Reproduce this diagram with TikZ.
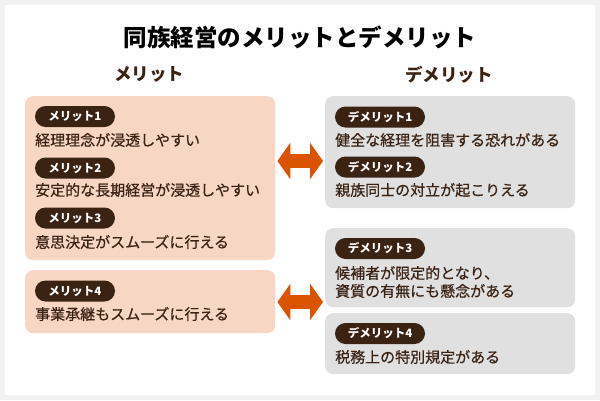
\documentclass[tikz,border=0pt]{standalone}
\usepackage{fontspec}
\setmainfont{Noto Sans CJK JP}
\newfontfamily\jpmed[FakeBold=0.6]{Noto Sans CJK JP}
\usetikzlibrary{arrows.meta}
\definecolor{bgc}{RGB}{242,242,242}
\definecolor{peach}{RGB}{248,214,196}
\definecolor{greyc}{RGB}{224,224,224}
\definecolor{pillc}{RGB}{59,35,20}
\definecolor{txt}{RGB}{59,35,20}
\definecolor{orangec}{RGB}{218,84,0}
\begin{document}
\begin{tikzpicture}[x=1pt,y=-1pt,
  titlestyle/.style={inner sep=0pt, text=black, font=\bfseries\fontsize{23.5}{26}\selectfont},
  headstyle/.style={inner sep=0pt, text=txt, font=\bfseries\fontsize{17.5}{20}\selectfont},
  boxstyle/.style={rounded corners=8pt, inner sep=0pt, anchor=north west, minimum width=250pt},
  meritbox/.style={boxstyle, fill=peach},
  demeritbox/.style={boxstyle, fill=greyc},
  pill/.style={fill=pillc, rounded corners=10.5pt, minimum height=21pt, inner sep=0pt, text=white, font=\bfseries\fontsize{11.5}{12}\selectfont},
  lpill/.style={pill, minimum width=80pt},
  rpill/.style={pill, minimum width=90pt},
  body/.style={anchor=west, inner sep=0pt, text=txt, align=left, font=\jpmed\fontsize{15}{18}\selectfont},
  arr/.style={draw=orangec, line width=14pt, {Triangle[length=13pt,width=36pt]}-{Triangle[length=13pt,width=36pt]}, shorten >=2pt, shorten <=2pt}
]
\fill[bgc] (0,0) rectangle (600,400);
\fill[white] (5,5) rectangle (595,395);

\node[titlestyle] (title) at (300,37) {同族経営のメリットとデメリット};
\node[headstyle] (hm) at (149,74) {メリット};
\node[headstyle] (hd) at (449,75) {デメリット};

% boxes
\node[meritbox, minimum height=164pt] (lb1) at (25,96) {};
\node[meritbox, minimum height=63pt] (lb2) at (25,270) {};
\node[demeritbox, minimum height=112pt] (rb1) at (325,96) {};
\node[demeritbox, minimum height=79pt] (rb2) at (325,228) {};
\node[demeritbox, minimum height=61pt] (rb3) at (325,313) {};

% merit pills and texts
\node[lpill] (p1) at (75,116.5) {メリット1};
\node[body] (t1) at (35,140) {経理理念が浸透しやすい};
\node[lpill] (p2) at (75,168) {メリット2};
\node[body] (t2) at (35,190) {安定的な長期経営が浸透しやすい};
\node[lpill] (p3) at (75,218) {メリット3};
\node[body] (t3) at (35,242) {意思決定がスムーズに行える};
\node[lpill] (p4) at (75,291) {メリット4};
\node[body] (t4) at (35,314) {事業承継もスムーズに行える};

% demerit pills and texts
\node[rpill] (d1) at (380,117) {デメリット1};
\node[body] (u1) at (335,140) {健全な経理を阻害する恐れがある};
\node[rpill] (d2) at (380,167) {デメリット2};
\node[body] (u2) at (335,190) {親族同士の対立が起こりえる};
\node[rpill] (d3) at (380,248.5) {デメリット3};
\node[body] (u3) at (335,282) {候補者が限定的となり、\\資質の有無にも懸念がある};
\node[rpill] (d4) at (380,333.5) {デメリット4};
\node[body] (u4) at (335,357) {税務上の特別規定がある};

% arrows
\coordinate (a1) at (300,161);
\coordinate (a2) at (300,302);
\draw[arr] (lb1.east |- a1) -- (rb1.west |- a1);
\draw[arr] (lb2.east |- a2) -- (rb2.west |- a2);
\end{tikzpicture}
\end{document}
